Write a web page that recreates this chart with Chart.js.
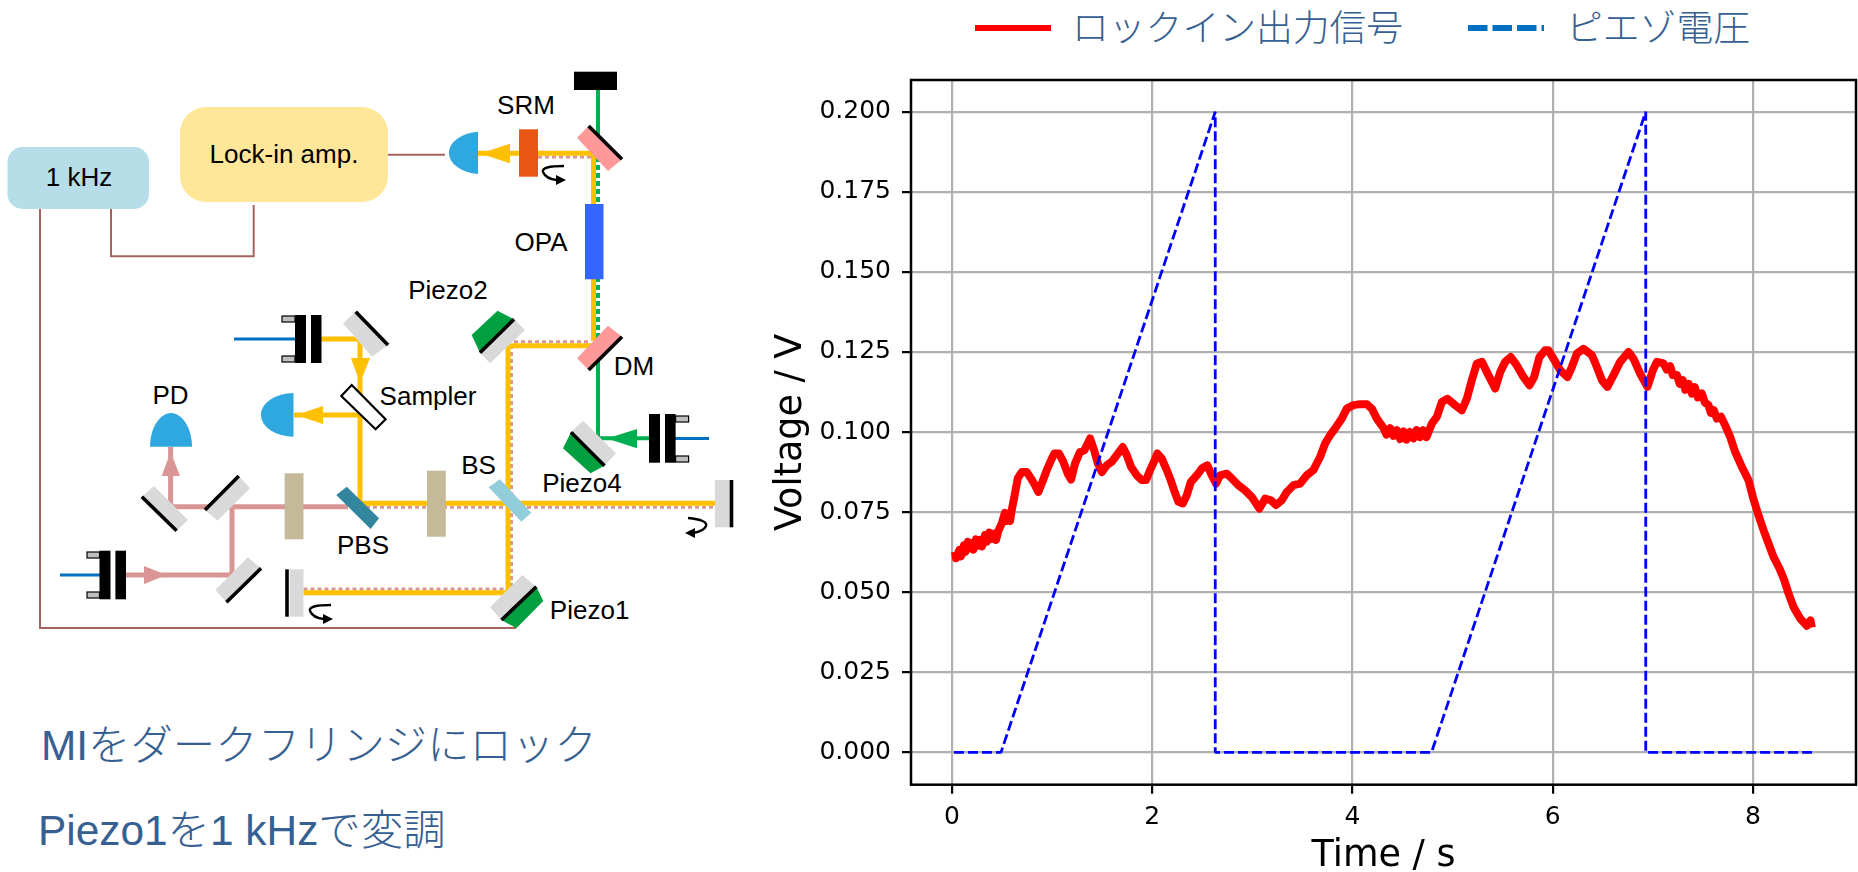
<!DOCTYPE html>
<html lang="ja">
<head>
<meta charset="utf-8">
<title>ロックイン出力信号</title>
<script src="https://cdn.jsdelivr.net/npm/chart.js@4/dist/chart.umd.js"></script>
<style>
	html, body { margin: 0; padding: 0; background: #fff; overflow: hidden; }
	#page { position: relative; width: 1858px; height: 872px; }
	#scheme { position: absolute; left: 0; top: 0; }
	#plot { position: absolute; left: 760px; top: 60px; }
	.lab { font: 26px "Liberation Sans", Arial, sans-serif; fill: #000; text-anchor: middle; dominant-baseline: central; }
	.note { font: 300 42.4px "Liberation Sans", "Noto Sans CJK JP", sans-serif; fill: #376092; }
	.leg { font: 300 36.8px "Noto Sans CJK JP", sans-serif; fill: #376092; }
</style>
</head>
<body>
<div id="page">
<svg id="scheme" width="1858" height="872" xmlns="http://www.w3.org/2000/svg">
	<!-- legend, sits over the plot in the original slide -->
	<line x1="975" y1="28" x2="1051" y2="28" stroke="#ff0000" stroke-width="6"/>
	<text class="leg" x="1072" y="41">ロックイン出力信号</text>
	<line x1="1468" y1="28" x2="1544" y2="28" stroke="#0070c0" stroke-width="6" stroke-dasharray="19.5 5"/>
	<text class="leg" x="1566" y="41">ピエゾ電圧</text>

	<!-- boxes and wires -->
	<rect x="7.5" y="147" width="141.5" height="62" rx="15" fill="#b7dde8"/>
	<rect x="180" y="107" width="208" height="95" rx="26" fill="#ffe699"/>
	<g fill="none" stroke="#a5635f" stroke-width="2">
		<path d="M388 154.7H445"/>
		<path d="M111 209V256.3H253.7V205"/>
		<path d="M40 209V628H516"/>
	</g>

	<!-- beams -->
	<g fill="none" stroke="#00b050">
		<path d="M598 90V157" stroke-width="4"/>
		<path d="M598 157V341" stroke-width="4" stroke-dasharray="5 3"/>
		<path d="M598 341V438.3H653" stroke-width="4"/>
	</g>
	<g fill="none" stroke="#d99694">
		<path d="M126 575H232V506.7" stroke-width="5"/>
		<path d="M170.6 447V506.7H348" stroke-width="5"/>
		<g stroke-width="3" stroke-dasharray="4 3">
			<path d="M538 157H592"/>
			<path d="M514 341.7H590"/>
			<path d="M511.5 345V590"/>
			<path d="M366 507.3H715"/>
			<path d="M303.5 589H510"/>
		</g>
	</g>
	<g fill="none" stroke="#ffc000" stroke-width="5">
		<path d="M478 153.3H593.5V341"/>
		<path d="M593 345.7H508V592.7H303.5"/>
		<path d="M321 339H360V503.3H715"/>
		<path d="M360 415H294"/>
	</g>
	<g fill="none" stroke="#0070c0" stroke-width="3">
		<path d="M234 339H296"/>
		<path d="M60 575H102"/>
		<path d="M675 438.5H709"/>
	</g>

	<!-- arrow heads -->
	<polygon points="480,153.5 510,143.7 510,163.3" fill="#ffc000"/>
	<polygon points="360,383 351,358 370,358" fill="#ffc000"/>
	<polygon points="296,415 323,406 323,424" fill="#ffc000"/>
	<polygon points="170.6,451.7 180,476 161.7,476" fill="#d99694"/>
	<polygon points="166.7,575 144,566 144,584" fill="#d99694"/>
	<polygon points="607,438.5 637,429 637,448.3" fill="#00b050"/>

	<!-- detectors -->
	<path d="M478 131.7A33 21.3 0 0 0 478 174Z" fill="#2fa8e0"/>
	<path d="M293.5 393A32.5 21.8 0 0 0 293.5 436.7Z" fill="#2fa8e0"/>
	<path d="M150 446.7C150 428 160 413 171 413C182 413 192 428 192 446.7Z" fill="#2fa8e0"/>

	<!-- plates and crystal -->
	<rect x="519" y="129.3" width="19" height="47.4" fill="#e95513"/>
	<rect x="574" y="71.7" width="43" height="18.3" fill="#000"/>
	<rect x="585" y="204" width="18.5" height="75.3" fill="#3366ff"/>
	<rect x="284.6" y="473.3" width="18.9" height="66" fill="#c4b998"/>
	<rect x="427" y="470.7" width="18.8" height="66" fill="#c4b998"/>
	<polygon points="346.8,486.7 379,518.3 370.6,529 336.3,495" fill="#31859c"/>
	<polygon points="500,479.3 531.3,512.7 521.4,521.7 488.6,487.3" fill="#92cddc"/>
	<polygon points="351.7,385 385.6,419.3 375.6,429.3 341.3,396" fill="#fff" stroke="#000" stroke-width="2.2"/>

	<!-- mirrors -->
	<polygon points="588.6,126 622,159.3 608,171 577,137.7" fill="#ff9999"/>
	<polygon points="608,325.7 622,336.7 588.6,370 577,358.3" fill="#ff9999"/>
	<polygon points="514,319.3 525,330 490,363.3 480,352.7" fill="#d9d9d9"/>
	<polygon points="497.5,310.7 514,319.3 480,352.7 471.6,335" fill="#00a040"/>
	<polygon points="355.7,311.7 388,345 372,356.7 343,323.3" fill="#d9d9d9"/>
	<polygon points="154,486 188,520 176.6,530.7 141.8,496.7" fill="#d9d9d9"/>
	<polygon points="238.8,476 250,488.3 217.4,520.7 205,510" fill="#d9d9d9"/>
	<polygon points="247.8,557.3 261,568.3 226.4,602.3 215.4,590" fill="#d9d9d9"/>
	<polygon points="522.4,575 536.3,586.7 501.5,620 490,607.3" fill="#d9d9d9"/>
	<polygon points="536.3,586.7 543.3,601 516.4,628.3 501.5,620" fill="#00a040"/>
	<polygon points="583,420.7 616,453.3 604.5,465.7 571,432.3" fill="#d9d9d9"/>
	<polygon points="571,432.3 604.5,465.7 590.5,473.3 563,448.3" fill="#00a040"/>
	<rect x="715" y="480" width="15" height="47.3" fill="#d9d9d9"/>
	<rect x="289.6" y="569.3" width="13.9" height="47.4" fill="#d9d9d9"/>
	<g stroke="#000" stroke-width="3.6" fill="none">
		<path d="M588.6 126L622 159.3"/>
		<path d="M622 336.7L588.6 370"/>
		<path d="M514 319.3L480 352.7"/>
		<path d="M355.7 311.7L388 345"/>
		<path d="M141.8 496.7L176.6 530.7"/>
		<path d="M205 510L238.8 476"/>
		<path d="M261 568.3L226.4 602.3"/>
		<path d="M536.3 586.7L501.5 620"/>
		<path d="M571 432.3L604.5 465.7"/>
		<path d="M731.5 480V527.3"/>
		<path d="M287 569.3V616.7"/>
	</g>

	<!-- fibre launchers -->
	<g fill="#000">
		<rect x="295" y="315" width="11" height="48"/><rect x="311" y="315" width="10.5" height="48"/>
		<rect x="99.5" y="550.7" width="11" height="48.6"/><rect x="115.4" y="550.7" width="10.6" height="48.6"/>
		<rect x="649" y="414" width="11" height="48.7"/><rect x="665" y="414" width="10.6" height="48.7"/>
	</g>
	<g fill="#bfbfbf" stroke="#000" stroke-width="1.2">
		<rect x="282" y="316" width="13" height="6"/><rect x="282" y="356" width="13" height="6"/>
		<rect x="87" y="552" width="12.5" height="6"/><rect x="87" y="592" width="12.5" height="6"/>
		<rect x="675.6" y="416" width="13" height="6"/><rect x="675.6" y="456" width="13" height="6"/>
	</g>

	<!-- rotation arrows -->
	<g fill="none" stroke="#000" stroke-width="2.4">
		<path d="M564 166Q541 166 543 172Q546 179 557 180"/>
		<path d="M331 605Q308 605 310 611Q313 618 324 619"/>
		<path d="M688 518Q708 520 706 526Q704 531 693 533"/>
	</g>
	<polygon points="566,180 556,175 556,185"/>
	<polygon points="333,619 323,614 323,624"/>
	<polygon points="685,533 695,528 695,538"/>

	<!-- labels -->
	<text class="lab" x="79" y="177">1 kHz</text>
	<text class="lab" x="284" y="154">Lock-in amp.</text>
	<text class="lab" x="526" y="105">SRM</text>
	<text class="lab" x="541" y="242">OPA</text>
	<text class="lab" x="448" y="290">Piezo2</text>
	<text class="lab" x="634" y="366">DM</text>
	<text class="lab" x="428" y="396">Sampler</text>
	<text class="lab" x="170.6" y="395">PD</text>
	<text class="lab" x="478.6" y="465">BS</text>
	<text class="lab" x="582" y="482.7">Piezo4</text>
	<text class="lab" x="363" y="545">PBS</text>
	<text class="lab" x="589.6" y="610">Piezo1</text>

	<text class="note" x="41" y="759.5">MIをダークフリンジにロック</text>
	<text class="note" x="38" y="845">Piezo1を1 kHzで変調</text>
</svg>
<canvas id="plot" width="1098" height="812"></canvas>
</div>

<script>
const lockinTime = [
	0.030, 0.040, 0.075, 0.090, 0.120, 0.135, 0.160, 0.175, 0.200, 0.215,
	0.240, 0.255, 0.280, 0.300, 0.330, 0.350, 0.374, 0.395, 0.421, 0.440,
	0.464, 0.497, 0.530, 0.545, 0.563, 0.580, 0.597, 0.623, 0.657, 0.697,
	0.747, 0.790, 0.830, 0.863, 0.903, 0.947, 0.990, 1.023, 1.070, 1.113,
	1.157, 1.190, 1.230, 1.280, 1.323, 1.380, 1.420, 1.457, 1.497, 1.546,
	1.596, 1.646, 1.706, 1.746, 1.789, 1.846, 1.896, 1.939, 1.979, 2.029,
	2.052, 2.096, 2.139, 2.179, 2.219, 2.262, 2.306, 2.346, 2.386, 2.446,
	2.495, 2.551, 2.595, 2.638, 2.678, 2.745, 2.795, 2.861, 2.928, 2.995,
	3.071, 3.128, 3.185, 3.238, 3.295, 3.345, 3.411, 3.478, 3.544, 3.610,
	3.677, 3.727, 3.777, 3.827, 3.894, 3.944, 4.010, 4.077, 4.144, 4.194,
	4.244, 4.310, 4.340, 4.377, 4.410, 4.445, 4.477, 4.510, 4.540, 4.575,
	4.610, 4.640, 4.675, 4.705, 4.740, 4.793, 4.843, 4.893, 4.949, 5.026,
	5.093, 5.143, 5.193, 5.243, 5.293, 5.343, 5.426, 5.476, 5.526, 5.582,
	5.642, 5.708, 5.768, 5.815, 5.868, 5.925, 5.958, 6.008, 6.075, 6.148,
	6.192, 6.242, 6.308, 6.392, 6.442, 6.492, 6.547, 6.607, 6.674, 6.757,
	6.807, 6.874, 6.947, 7.001, 7.041, 7.107, 7.140, 7.174, 7.200, 7.241,
	7.270, 7.300, 7.324, 7.360, 7.390, 7.420, 7.450, 7.490, 7.520, 7.556,
	7.580, 7.610, 7.640, 7.680, 7.723, 7.773, 7.823, 7.890, 7.956, 8.000,
	8.056, 8.106, 8.156, 8.206, 8.266, 8.313, 8.356, 8.406, 8.472, 8.539,
	8.575, 8.589,
];
const lockinVoltage = [
	0.0626, 0.0606, 0.0632, 0.0612, 0.0646, 0.0626, 0.0657, 0.0637, 0.0653, 0.0633,
	0.0665, 0.0645, 0.0663, 0.0643, 0.0678, 0.0658, 0.0686, 0.0666, 0.0683, 0.0663,
	0.0692, 0.0714, 0.0748, 0.0722, 0.0738, 0.0722, 0.0756, 0.0797, 0.0855, 0.0875,
	0.0875, 0.0855, 0.0834, 0.0813, 0.0844, 0.0881, 0.0912, 0.0933, 0.0933, 0.0907,
	0.0870, 0.0852, 0.0902, 0.0938, 0.0943, 0.0980, 0.0943, 0.0902, 0.0875, 0.0896,
	0.0907, 0.0928, 0.0953, 0.0928, 0.0891, 0.0865, 0.0850, 0.0850, 0.0881, 0.0915,
	0.0933, 0.0917, 0.0886, 0.0855, 0.0818, 0.0782, 0.0777, 0.0803, 0.0844, 0.0865,
	0.0886, 0.0896, 0.0865, 0.0839, 0.0865, 0.0870, 0.0855, 0.0834, 0.0818, 0.0797,
	0.0761, 0.0792, 0.0787, 0.0772, 0.0787, 0.0813, 0.0834, 0.0839, 0.0865, 0.0881,
	0.0922, 0.0964, 0.0990, 0.1011, 0.1042, 0.1073, 0.1084, 0.1087, 0.1087, 0.1073,
	0.1042, 0.1013, 0.0992, 0.1012, 0.0988, 0.1006, 0.0978, 0.1002, 0.0976, 0.1000,
	0.0980, 0.1006, 0.0984, 0.1006, 0.0984, 0.1026, 0.1047, 0.1094, 0.1104, 0.1084,
	0.1068, 0.1104, 0.1162, 0.1214, 0.1219, 0.1187, 0.1136, 0.1187, 0.1219, 0.1234,
	0.1208, 0.1172, 0.1146, 0.1172, 0.1234, 0.1255, 0.1255, 0.1229, 0.1193, 0.1172,
	0.1203, 0.1245, 0.1260, 0.1240, 0.1203, 0.1162, 0.1141, 0.1177, 0.1219, 0.1250,
	0.1229, 0.1182, 0.1141, 0.1193, 0.1219, 0.1214, 0.1195, 0.1205, 0.1178, 0.1178,
	0.1150, 0.1162, 0.1132, 0.1150, 0.1120, 0.1140, 0.1108, 0.1120, 0.1092, 0.1085,
	0.1060, 0.1068, 0.1042, 0.1048, 0.1021, 0.0985, 0.0938, 0.0891, 0.0850, 0.0797,
	0.0740, 0.0694, 0.0652, 0.0610, 0.0574, 0.0538, 0.0496, 0.0454, 0.0418, 0.0395,
	0.0412, 0.0390,
];
const piezoTime = [ 0.02, 0.49, 2.63, 2.63, 4.79, 6.93, 6.93, 8.59 ];
const piezoVoltage = [ 0, 0, 0.2, 0, 0, 0.2, 0, 0 ];
const xTicks = [ 0, 2, 4, 6, 8 ];
const yTicks = [ 0, 0.025, 0.05, 0.075, 0.1, 0.125, 0.15, 0.175, 0.2 ];
const yTickLabels = [ '0.000', '0.025', '0.050', '0.075', '0.100', '0.125', '0.150', '0.175', '0.200' ];

const toPoints = ( xs, ys ) => xs.map( ( x, i ) => ( { x, y: ys[ i ] } ) );
const tickFont = { family: 'DejaVu Sans', size: 25 };
const titleFont = { family: 'DejaVu Sans', size: 36.5, lineHeight: 0.8 };

// matplotlib style box, Chart.js only has the one border per scale
const frame = {
	id: 'frame',
	afterDraw( chart ) {
		const { ctx, chartArea: a } = chart;
		ctx.save();
		ctx.strokeStyle = '#000';
		ctx.lineWidth = 2.5;
		ctx.strokeRect( a.left, a.top, a.right - a.left, a.bottom - a.top );
		ctx.restore();
	},
};

new Chart( document.getElementById( 'plot' ), {
	type: 'line',
	data: {
		datasets: [
			{
				data: toPoints( piezoTime, piezoVoltage ),
				borderColor: '#0000ff',
				borderWidth: 2.8,
				borderDash: [ 10, 4 ],
				borderJoinStyle: 'bevel',
				pointRadius: 0,
				order: 0,
			},
			{
				data: toPoints( lockinTime, lockinVoltage ),
				borderColor: '#ff0000',
				borderWidth: 8,
				pointRadius: 0,
				borderJoinStyle: 'round',
				order: 1,
			},
		],
	},
	options: {
		responsive: false,
		animation: false,
		layout: { padding: { top: 20, right: 2, left: 0, bottom: 0 } },
		plugins: { legend: { display: false }, tooltip: { enabled: false } },
		scales: {
			x: {
				type: 'linear',
				min: -0.409,
				max: 9.03,
				afterBuildTicks( scale ) {
					scale.ticks = xTicks.map( ( value ) => ( { value } ) );
				},
				afterFit( scale ) {
					scale.height = 87.3;
					scale.paddingLeft = 0;
					scale.paddingRight = 0;
				},
				ticks: { font: tickFont, color: '#000', padding: 8.5, maxRotation: 0, autoSkip: false },
				grid: { color: '#b0b0b0', lineWidth: 2.2, tickColor: '#000', tickLength: 9, tickWidth: 2.2 },
				border: { display: false },
				title: { display: true, text: 'Time / s', font: titleFont, color: '#000', padding: { top: 0, bottom: 1 } },
			},
			y: {
				min: -0.0101,
				max: 0.2099,
				afterBuildTicks( scale ) {
					scale.ticks = yTicks.map( ( value ) => ( { value } ) );
				},
				afterFit( scale ) {
					scale.width = 151;
					scale.paddingTop = 0;
					scale.paddingBottom = 0;
				},
				ticks: {
					font: tickFont,
					color: '#000',
					padding: 11,
					autoSkip: false,
					callback( val, index ) {
						return yTickLabels[ index ];
					},
				},
				grid: { color: '#b0b0b0', lineWidth: 2.2, tickColor: '#000', tickLength: 9, tickWidth: 2.2 },
				border: { display: false },
				title: { display: true, text: 'Voltage / V', font: titleFont, color: '#000', padding: { top: 17, bottom: 0 } },
			},
		},
	},
	plugins: [ frame ],
} );
</script>
</body>
</html>
